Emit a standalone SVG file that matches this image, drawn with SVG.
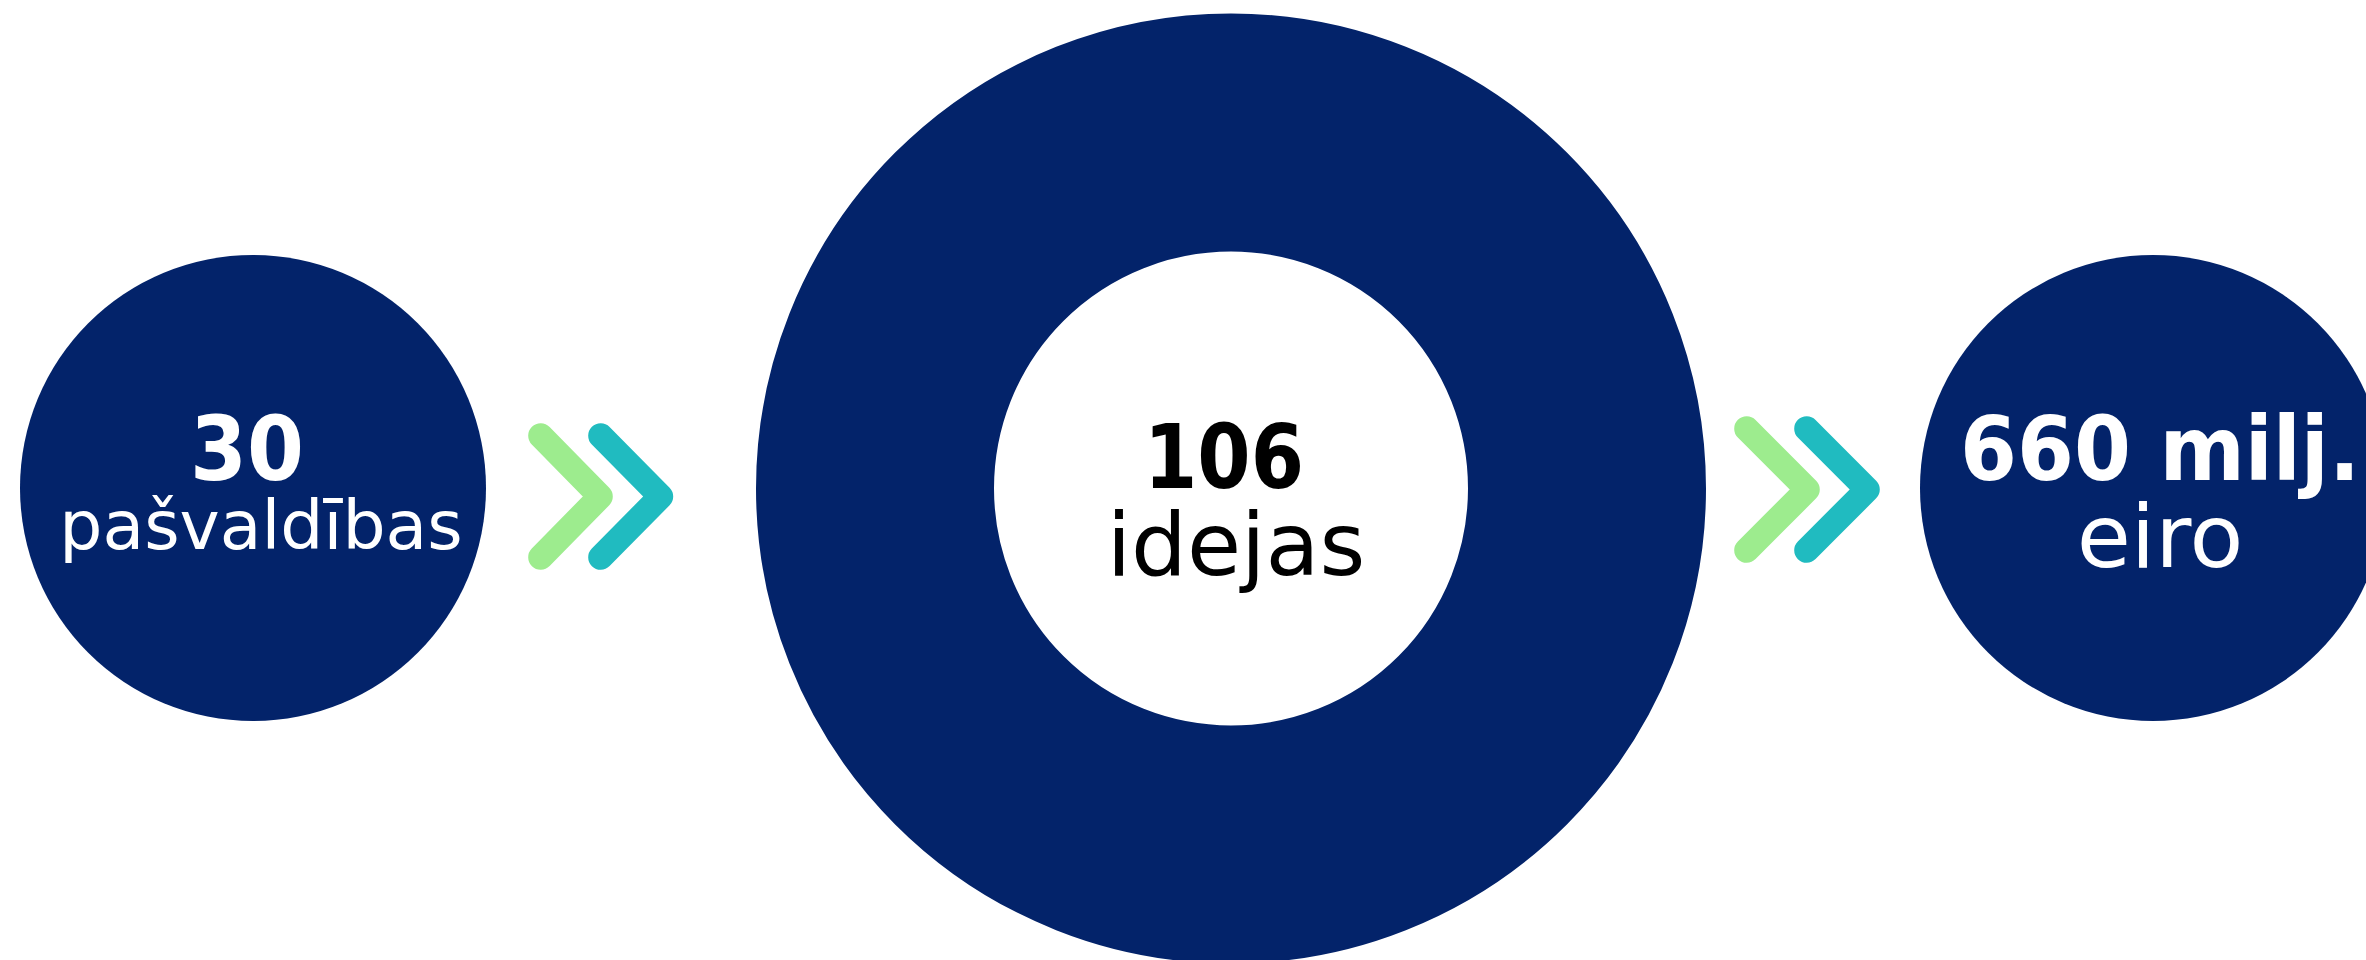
<svg xmlns="http://www.w3.org/2000/svg" width="2366" height="960" viewBox="0 0 2366 960">
  <style>
    .disk { fill: #03236A; }
    .ring { fill: none; stroke: #03236A; stroke-width: 238; }
    .num { font-family: "DejaVu Sans", "Liberation Sans", sans-serif; font-weight: bold; font-size: 89px; text-anchor: middle; }
    .lbl { font-family: "DejaVu Sans", "Liberation Sans", sans-serif; font-weight: normal; text-anchor: middle; }
    .white { fill: #FFFFFF; }
    .black { fill: #000000; }
    .chev { fill: none; stroke-width: 25; stroke-linecap: round; stroke-linejoin: round; }
    .green { stroke: #9DEC8E; }
    .teal { stroke: #20BBC0; }
  </style>
  <rect x="0" y="0" width="2366" height="960" fill="#FFFFFF"/>

  <g id="node-pasvaldibas">
    <circle class="disk" cx="253" cy="488" r="233"/>
    <text class="num white" x="247" y="480" textLength="114" lengthAdjust="spacingAndGlyphs">30</text>
    <text class="lbl white" x="261" y="549" font-size="68">pašvaldības</text>
  </g>

  <g id="node-idejas">
    <circle class="ring" cx="1231" cy="488.5" r="356"/>
    <text class="num black" x="1224" y="488" textLength="160" lengthAdjust="spacingAndGlyphs">106</text>
    <text class="lbl black" x="1236" y="575" font-size="88">idejas</text>
  </g>

  <g id="node-eiro">
    <circle class="disk" cx="2153" cy="488" r="233"/>
    <text class="num white" x="2160" y="480" textLength="400" lengthAdjust="spacingAndGlyphs">660 milj.</text>
    <text class="lbl white" x="2160" y="567" font-size="88">eiro</text>
  </g>

  <g id="connectors">
    <polyline class="chev green" points="540.7,435.7 600.3,496.5 540.7,557.3"/>
    <polyline class="chev teal" points="600.7,435.7 660.7,496.5 600.7,557.3"/>
    <polyline class="chev green" points="1746.7,428.7 1807.3,489.5 1746.7,550.3"/>
    <polyline class="chev teal" points="1806.7,428.7 1867.3,489.5 1806.7,550.3"/>
  </g>
</svg>
